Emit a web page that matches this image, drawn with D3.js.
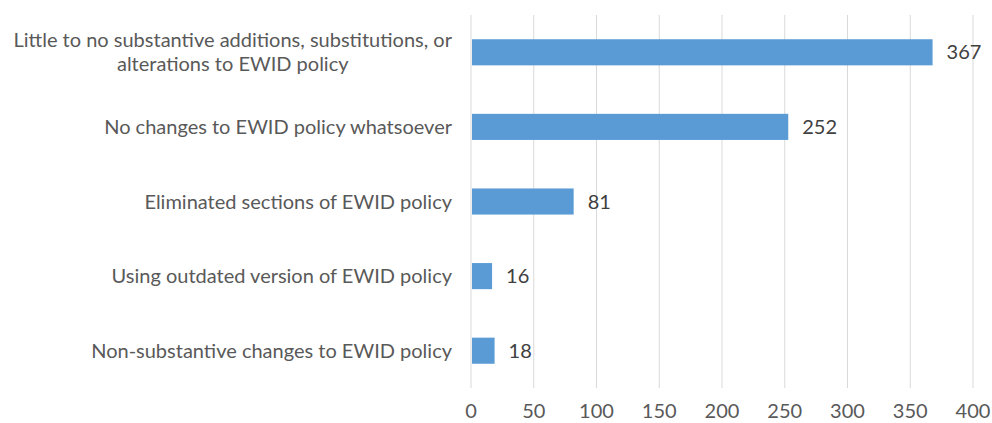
<!DOCTYPE html>
<html><head><meta charset="utf-8">
<script src="https://cdn.jsdelivr.net/npm/d3@7"></script>
<style>body{margin:0;background:#fff}svg{display:block}</style>
</head><body>
<svg id="c" width="992" height="423"></svg>
<script>
const categories = [
  ["Little to no substantive additions, substitutions, or", "alterations to EWID policy"],
  ["No changes to EWID policy whatsoever"],
  ["Eliminated sections of EWID policy"],
  ["Using outdated version of EWID policy"],
  ["Non-substantive changes to EWID policy"]
];
const values = [367, 252, 81, 16, 18];
const ticks = [0, 50, 100, 150, 200, 250, 300, 350, 400];

const svg = d3.select("#c");
const font = "Lato, 'Open Sans', sans-serif";
const fs = 20;
const x = d3.scaleLinear().domain([0, 400]).range([471, 973]);
const y = d3.scaleBand().domain(d3.range(values.length)).range([15, 388]).paddingInner(0.65).paddingOuter(0.325);

svg.append("g").selectAll("line").data(ticks).join("line")
  .attr("x1", d => x(d)).attr("x2", d => x(d)).attr("y1", 15).attr("y2", 388)
  .attr("stroke", "#d9d9d9").attr("stroke-width", 1);

svg.append("g").selectAll("rect").data(values).join("rect")
  .attr("x", x(0) + 1).attr("y", (d, i) => y(i))
  .attr("width", d => x(d) - x(0)).attr("height", y.bandwidth())
  .attr("fill", "#5b9bd5");

svg.append("g").selectAll("text").data(values).join("text")
  .attr("x", d => x(d) + 15).attr("y", (d, i) => y(i) + y.bandwidth() / 2)
  .attr("dy", "0.35em").attr("font-family", font).attr("font-size", fs)
  .attr("fill", "#404040").text(d => d);

const rightEdge = 452;
const lab = svg.append("g").selectAll("text").data(categories).join("text")
  .attr("text-anchor", "middle").attr("font-family", font).attr("font-size", fs)
  .attr("fill", "#595959");
lab.each(function(lines, i) {
  const t = d3.select(this);
  const cy = y(i) + y.bandwidth() / 2;
  const lh = 24;
  const spans = lines.map((s, k) => t.append("tspan")
      .attr("y", cy + (k - (lines.length - 1) / 2) * lh)
      .attr("dy", "0.35em").text(s));
  const w = d3.max(spans, sp => sp.node().getComputedTextLength());
  spans.forEach(sp => sp.attr("x", rightEdge - w / 2));
});

svg.append("g").selectAll("text").data(ticks).join("text")
  .attr("x", d => x(d)).attr("y", 411).attr("dy", "0.35em")
  .attr("text-anchor", "middle").attr("font-family", font).attr("font-size", fs)
  .attr("fill", "#595959").text(d => d);
</script>
</body></html>
